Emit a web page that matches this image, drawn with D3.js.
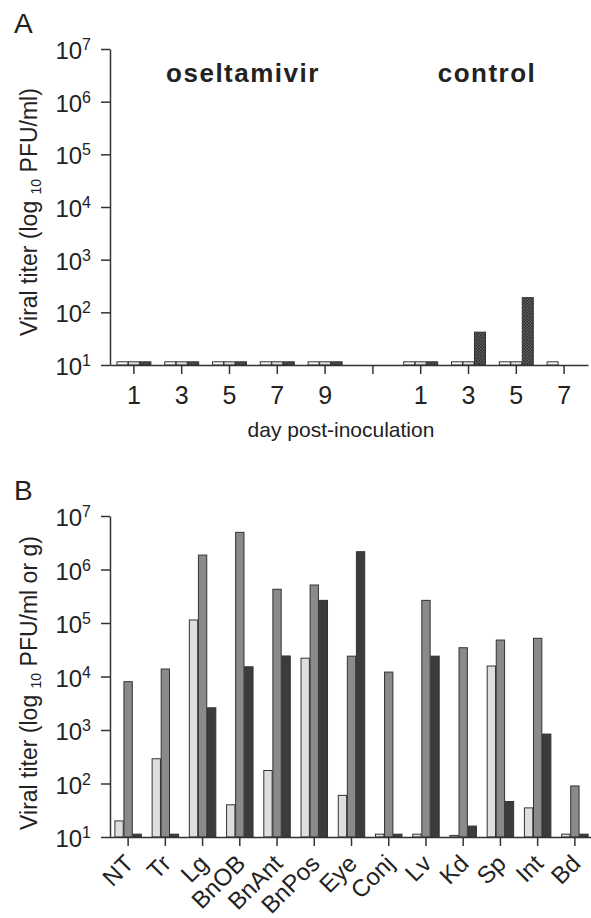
<!DOCTYPE html>
<html>
<head>
<meta charset="utf-8">
<script src="https://cdn.jsdelivr.net/npm/d3@7"></script>
<style>
  body { margin: 0; background: #fff; }
  svg text { font-family: "Liberation Sans", Arial, sans-serif; fill: #222; }
  .axis path, .axis line { stroke: #333; stroke-width: 1.5px; }
</style>
</head>
<body>
<script>
// panel A: virus in nasal wash, 3 animals per day
var slotsA = ["o1", "o3", "o5", "o7", "o9", "gap", "c1", "c3", "c5", "c7"];
var tickLabelsA = ["1", "3", "5", "7", "9", "", "1", "3", "5", "7"];
var animal1A = [11.5, 11.5, 11.5, 11.5, 11.5, null, 11.5, 11.5, 11.5, 11.5];
var animal2A = [11.5, 11.5, 11.5, 11.5, 11.5, null, 11.5, 11.5, 11.5, null];
var animal3A = [11.5, 11.5, 11.5, 11.5, 11.5, null, 11.5, 42, 190, null];

// panel B: tissues
var tissuesB = ["NT", "Tr", "Lg", "BnOB", "BnAnt", "BnPos", "Eye", "Conj", "Lv", "Kd", "Sp", "Int", "Bd"];
var lightB = [20, 290, 114000, 40, 175, 22000, 60, 11.3, 11.3, 10.7, 15700, 35, 11.3];
var midB = [8000, 13800, 1860000, 4950000, 427000, 513000, 24000, 12100, 265000, 34500, 48000, 51800, 90];
var darkB = [11.3, 11.3, 2600, 15200, 24200, 265000, 2150000, 11.3, 24000, 16, 46, 840, 11.3];

var yTicks = [1e1, 1e2, 1e3, 1e4, 1e5, 1e6, 1e7];

var width = 591;
var height = 918;

var svg = d3.select("body")
            .append("svg")
            .attr("width", width)
            .attr("height", height);

// checkered fill for the third animal in panel A
var pat = svg.append("defs").append("pattern")
             .attr("id", "checker")
             .attr("width", 3)
             .attr("height", 3)
             .attr("patternUnits", "userSpaceOnUse");
pat.append("rect").attr("width", 3).attr("height", 3).attr("fill", "#2a2a2a");
pat.append("rect").attr("width", 1.5).attr("height", 1.5).attr("fill", "#666");
pat.append("rect").attr("x", 1.5).attr("y", 1.5).attr("width", 1.5).attr("height", 1.5).attr("fill", "#666");

// y axis with 10^n labels
function logAxis(yScale, x) {
  var g = svg.append("g")
             .attr("class", "axis")
             .attr("transform", "translate(" + x + ",0)")
             .call(d3.axisLeft(yScale)
                     .tickValues(yTicks)
                     .tickSize(9)
                     .tickSizeOuter(0)
                     .tickPadding(10)
                     .tickFormat(function(){ return ""; }));
  g.selectAll(".tick text").each(function(d){
    var t = d3.select(this).attr("dy", "0.4em").attr("font-size", 24);
    t.append("tspan").text("10");
    t.append("tspan").attr("font-size", 16).attr("dy", -9).text(Math.round(Math.log10(d)));
  });
  return g;
}

function yTitle(cy, extra) {
  var t = svg.append("text")
             .attr("transform", "translate(37," + cy + ") rotate(-90)")
             .attr("text-anchor", "middle")
             .attr("font-size", 23);
  t.append("tspan").text("Viral titer (log ");
  t.append("tspan").attr("font-size", 14).attr("dy", 4).text("10");
  t.append("tspan").attr("dy", -4).text(" PFU/ml" + extra + ")");
}

// ---------- panel A ----------
var yA = d3.scaleLog().domain([10, 1e7]).range([365, 49]);
var xA = d3.scaleBand().domain(slotsA).range([110, 588]).paddingInner(0.27).paddingOuter(0.135);
var x1A = d3.scaleBand().domain([0, 1, 2]).range([0, xA.bandwidth()]).padding(0.04);

var seriesA = [animal1A, animal2A, animal3A];
var fillA = ["#fafafa", "#e4e4e4", "url(#checker)"];

seriesA.forEach(function(vals, i){
  svg.append("g").selectAll("rect")
     .data(vals.map(function(v, j){ return {slot: slotsA[j], v: v}; }).filter(function(d){ return d.v != null; }))
     .enter()
     .append("rect")
     .attr("x", function(d){ return xA(d.slot) + x1A(i); })
     .attr("y", function(d){ return yA(d.v); })
     .attr("width", x1A.bandwidth())
     .attr("height", function(d){ return yA(10) - yA(d.v); })
     .attr("fill", fillA[i])
     .attr("stroke", "#333")
     .attr("stroke-width", 1);
});

var xAxisA = svg.append("g")
   .attr("class", "axis")
   .attr("transform", "translate(0,365)")
   .call(d3.axisBottom(xA)
           .tickSize(9)
           .tickSizeOuter(0)
           .tickPadding(12)
           .tickFormat(function(d, i){ return tickLabelsA[i]; }));
xAxisA.selectAll(".tick text").attr("font-size", 25);

logAxis(yA, 110);
yTitle(212, "");

svg.append("text").attr("x", 243).attr("y", 82).attr("text-anchor", "middle")
   .attr("font-size", 26).attr("font-weight", "bold").attr("letter-spacing", 1.5)
   .text("oseltamivir");
svg.append("text").attr("x", 487).attr("y", 82).attr("text-anchor", "middle")
   .attr("font-size", 26).attr("font-weight", "bold").attr("letter-spacing", 1.5)
   .text("control");

svg.append("text").attr("x", 341).attr("y", 437).attr("text-anchor", "middle")
   .attr("font-size", 21).text("day post-inoculation");

svg.append("text").attr("x", 14).attr("y", 33).attr("font-size", 28).text("A");

// ---------- panel B ----------
var yB = d3.scaleLog().domain([10, 1e7]).range([837, 516]);
var xB = d3.scaleBand().domain(tissuesB).range([109.5, 593.5]).paddingInner(0.25).paddingOuter(0.125);
var x1B = d3.scaleBand().domain([0, 1, 2]).range([0, xB.bandwidth()]).padding(0.08);

var seriesB = [lightB, midB, darkB];
var fillB = ["#dedede", "#8a8a8a", "#3c3c3c"];

seriesB.forEach(function(vals, i){
  svg.append("g").selectAll("rect")
     .data(vals.map(function(v, j){ return {t: tissuesB[j], v: v}; }))
     .enter()
     .append("rect")
     .attr("x", function(d){ return xB(d.t) + x1B(i); })
     .attr("y", function(d){ return yB(d.v); })
     .attr("width", x1B.bandwidth())
     .attr("height", function(d){ return yB(10) - yB(d.v); })
     .attr("fill", fillB[i])
     .attr("stroke", "#333")
     .attr("stroke-width", 1);
});

var xAxisB = svg.append("g")
   .attr("class", "axis")
   .attr("transform", "translate(0,837)")
   .call(d3.axisBottom(xB).tickSize(9).tickSizeOuter(0));
xAxisB.selectAll(".tick text")
   .attr("font-size", 24)
   .attr("text-anchor", "end")
   .attr("dy", null)
   .attr("y", null)
   .attr("transform", "translate(7,28) rotate(-45)");

logAxis(yB, 110);
yTitle(683, " or g");

svg.append("text").attr("x", 14).attr("y", 500).attr("font-size", 28).text("B");
</script>
</body>
</html>
